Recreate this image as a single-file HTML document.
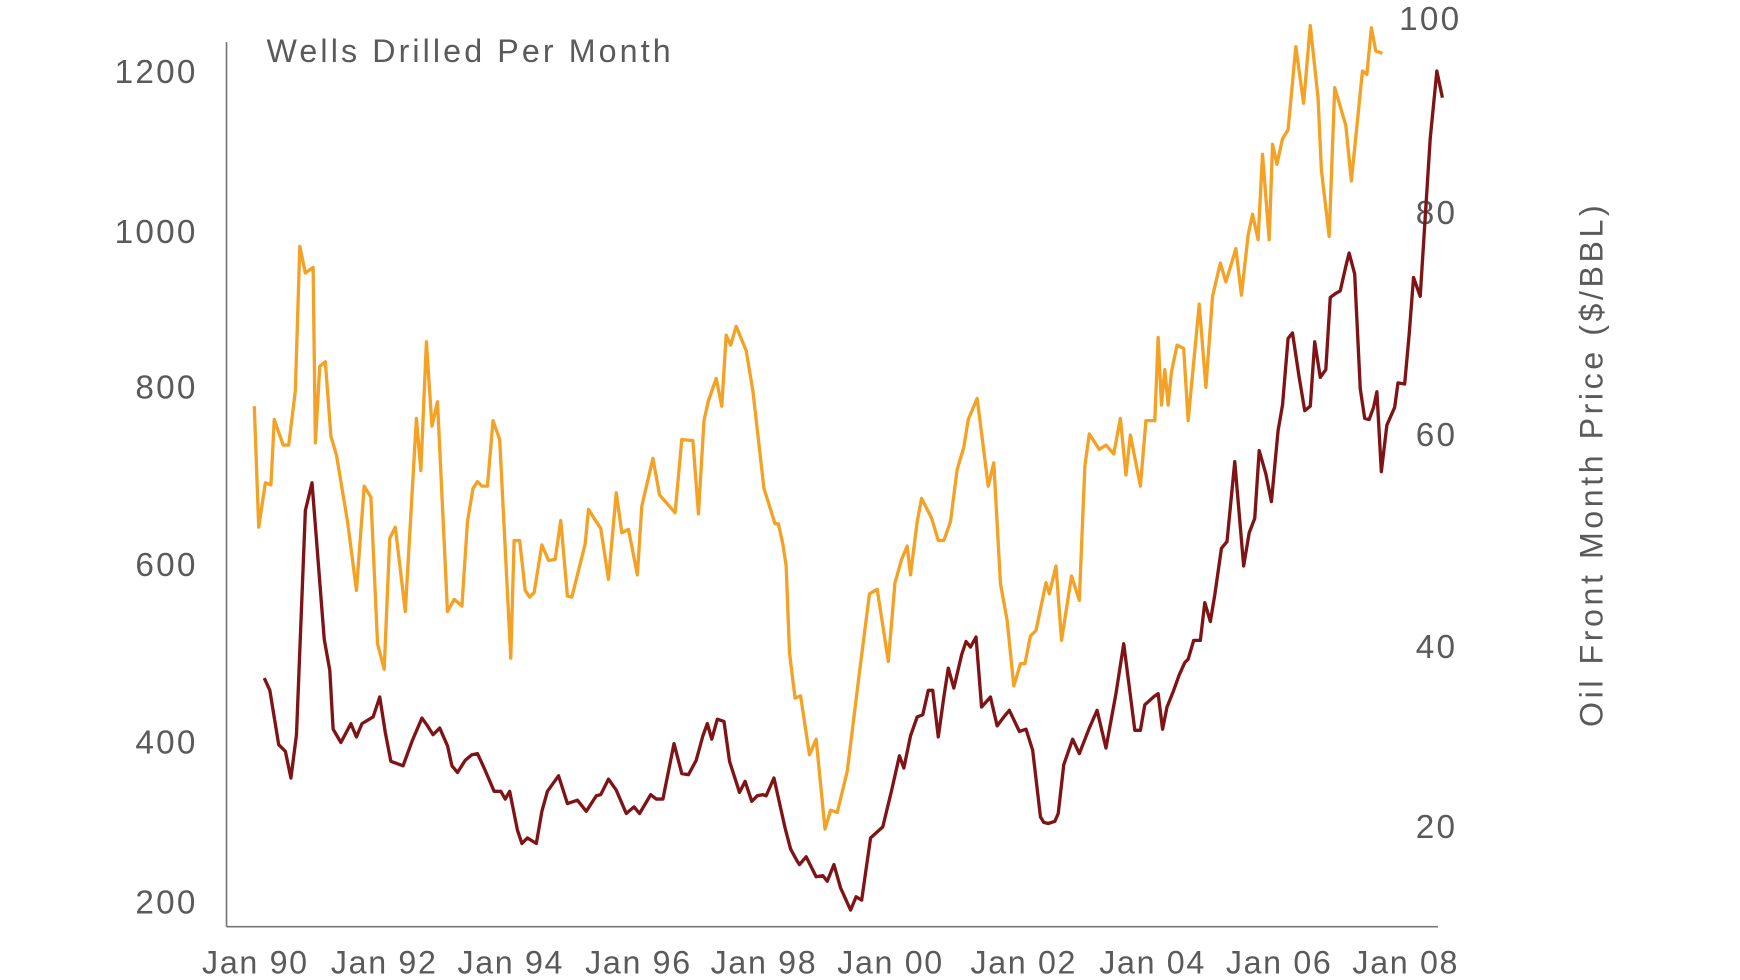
<!DOCTYPE html>
<html><head><meta charset="utf-8"><style>
html,body{margin:0;padding:0;background:#fff;}
svg{display:block;}
text{font-family:"Liberation Sans",sans-serif;fill:#5a5a5a;}
</style></head><body>
<svg width="1740" height="980" viewBox="0 0 1567 883" preserveAspectRatio="none" xmlns="http://www.w3.org/2000/svg">
<line x1="204" y1="38" x2="204" y2="835" stroke="#777" stroke-width="1.5"/>
<line x1="204" y1="835" x2="1295" y2="835" stroke="#777" stroke-width="1.5"/>
<g font-size="30" text-anchor="end" letter-spacing="2">
<text x="178" y="75">1200</text><text x="178" y="219">1000</text><text x="178" y="359">800</text>
<text x="178" y="519">600</text><text x="178" y="679">400</text><text x="178" y="823">200</text>
</g>
<g font-size="30" text-anchor="start" letter-spacing="2">
<text x="1260" y="27">100</text><text x="1275" y="202">80</text><text x="1275" y="402">60</text>
<text x="1275" y="593">40</text><text x="1275" y="755">20</text>
</g>
<text x="240" y="56" font-size="29" textLength="364" lengthAdjust="spacing">Wells Drilled Per Month</text>
<text transform="translate(1443,420) rotate(-90)" font-size="29" text-anchor="middle" textLength="470" lengthAdjust="spacing">Oil Front Month Price ($/BBL)</text>
<g font-size="29" text-anchor="middle" letter-spacing="1.5">
<text x="230" y="877">Jan 90</text><text x="346" y="877">Jan 92</text><text x="460" y="877">Jan 94</text>
<text x="575" y="877">Jan 96</text><text x="688" y="877">Jan 98</text><text x="802" y="877">Jan 00</text>
<text x="922" y="877">Jan 02</text><text x="1038" y="877">Jan 04</text><text x="1152" y="877">Jan 06</text>
<text x="1266" y="877">Jan 08</text>
</g>
<polyline fill="none" stroke="#f4a226" stroke-width="3" stroke-linejoin="round" points="229,366 233,475 239,435 244,437 247,378 255,401 260,401 266,352 270,222 275,246 279,243 282,241 284,399 288,330 293,326 298,393 303,410 313,470 321,532 328,438 334,448 340,580 346,603 351,485 356,475 365,551 375,377 379,424 384,308 389,384 394,362 403,551 409,540 416,546 421,470 426,440 430,434 434,438 439,438 444,379 450,396 460,593 463,487 468,487 473,532 477,538 481,534 488,491 494,505 500,504 505,469 511,537 515,538 527,490 530,459 535,467 541,476 548,522 555,444 560,480 566,477 574,518 578,456 588,413 594,446 608,462 614,396 624,397 629,463 634,379 638,361 645,341 650,366 654,302 658,311 663,294 672,316 678,352 688,440 698,472 701,472 705,490 708,510 711,588 716,629 721,627 729,680 735,666 743,747 748,730 754,732 763,695 773,614 783,535 790,531 800,596 806,525 812,504 817,492 820,518 826,470 830,449 839,467 845,487 850,487 856,470 862,423 868,403 872,378 880,359 890,438 895,417 901,526 907,559 913,618 919,598 923,598 928,573 933,568 942,525 945,535 951,510 956,577 965,519 972,541 977,420 981,391 990,405 996,401 1003,409 1009,377 1014,428 1018,392 1027,438 1032,379 1040,379 1043,304 1046,365 1049,333 1052,365 1055,335 1060,311 1066,314 1070,379 1080,274 1086,349 1092,267 1099,237 1104,254 1113,224 1118,266 1124,212 1128,193 1133,216 1137,139 1143,216 1146,130 1150,148 1155,125 1160,117 1167,42 1174,93 1180,23 1187,88 1190,153 1197,213 1202,79 1212,113 1217,163 1227,64 1231,67 1235,25 1239,46 1245,48"/>
<polyline fill="none" stroke="#7f1416" stroke-width="3" stroke-linejoin="round" points="238,611 243,622 251,671 257,677 262,701 267,662 275,460 281,435 292,576 297,604 300,657 307,669 316,652 321,664 326,652 336,646 342,628 347,660 352,686 363,690 371,668 380,647 385,654 390,662 396,656 403,672 407,690 412,696 419,685 425,680 430,679 436,692 445,713 451,713 455,720 459,713 466,748 470,760 475,755 483,760 488,731 493,713 503,699 511,724 520,721 528,731 537,717 541,716 548,702 555,712 564,733 571,727 576,733 586,716 591,720 597,720 607,670 614,697 620,698 627,685 633,663 637,652 641,666 646,648 652,650 657,686 666,714 671,704 677,722 682,717 687,716 690,717 697,701 707,746 712,765 718,776 720,779 726,772 735,790 741,789 745,794 751,779 757,800 766,820 771,808 776,811 784,755 795,745 803,712 810,681 814,692 820,663 826,646 831,644 836,622 840,622 845,664 850,628 854,602 859,620 866,590 870,578 874,583 879,574 884,637 892,628 898,654 904,646 909,640 918,659 924,657 930,676 937,736 940,741 944,742 950,740 953,733 958,689 966,666 972,679 981,656 988,640 996,674 1005,625 1012,580 1022,658 1027,658 1031,635 1040,627 1043,625 1047,657 1051,637 1057,622 1062,608 1067,597 1070,594 1075,577 1081,577 1085,543 1090,560 1094,536 1100,494 1105,488 1112,416 1120,510 1125,480 1130,467 1134,406 1140,427 1145,452 1151,388 1155,365 1160,305 1164,300 1170,340 1175,370 1180,366 1184,308 1189,340 1194,333 1198,268 1202,265 1207,262 1212,240 1215,228 1220,247 1225,350 1229,377 1233,378 1237,367 1240,353 1244,425 1249,383 1256,367 1259,345 1265,346 1269,302 1273,250 1279,267 1288,125 1294,64 1299,88"/>
</svg>
</body></html>
